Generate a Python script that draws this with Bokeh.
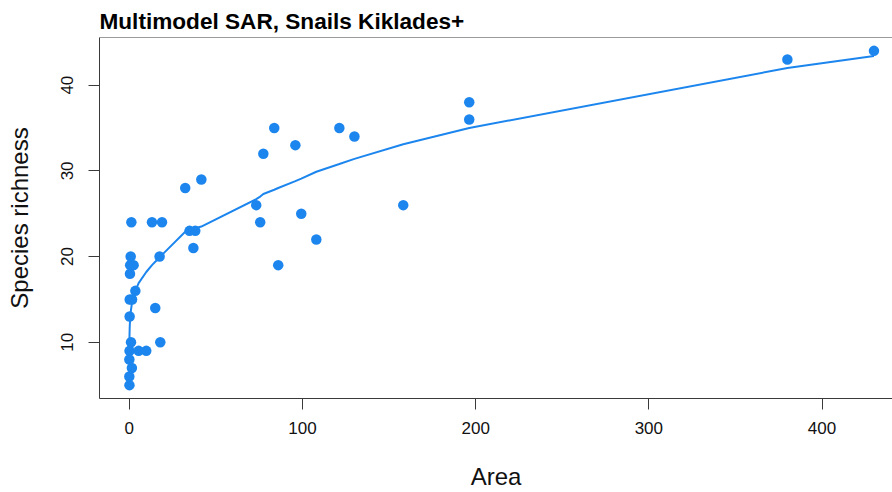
from bokeh.plotting import figure
from bokeh.models import Range1d, FixedTicker, Span
from bokeh.embed import file_html
from bokeh.resources import INLINE

# Island area (km^2), observed snail species richness, and multimodel-averaged fitted richness
area = [0.02, 0.05, 0.1, 0.15, 0.2, 0.25, 0.4, 0.5, 0.8, 1.0, 1.2, 1.5, 1.6, 2.5, 3.5,
        5.4, 9.8, 13.1, 15.0, 17.5, 17.9, 18.9, 32.3, 34.8, 37.0, 38.1, 41.6, 73.3, 75.6,
        77.4, 83.7, 86.0, 95.9, 99.3, 108.0, 121.3, 130.0, 158.2, 196.3, 196.3, 380.0, 430.0]
richness = [6, 8, 5, 9, 13, 15, 18, 19, 20, 10, 24, 7, 15, 19, 16,
            9, 9, 24, 14, 20, 10, 24, 28, 23, 21, 23, 29, 26, 24,
            32, 35, 19, 33, 25, 22, 35, 34, 26, 38, 36, 43, 44]
fitted = [9.0, 9.8, 10.5, 11.0, 11.4, 11.8, 12.4, 12.7, 13.4, 13.8, 14.1, 14.5, 14.6, 15.4, 16.0,
          16.9, 18.2, 19.0, 19.4, 19.9, 20.0, 20.2, 22.9, 23.1, 23.2, 23.3, 23.5, 26.7, 27.0,
          27.3, 27.8, 28.0, 28.8, 29.1, 29.9, 30.8, 31.4, 33.1, 35.0, 35.0, 42.0, 43.4]

x_ticks = [0, 100, 200, 300, 400]
y_ticks = [10, 20, 30, 40]

BLUE = "#1C86EE"
FONT = "Liberation Sans"
AXIS_COLOR = "#3a3a3a"

p = figure(width=892, height=492, output_backend="svg", toolbar_location=None,
           x_range=Range1d(-17.2, 440.7), y_range=Range1d(3.44, 45.56),
           min_border_left=99, min_border_right=0, min_border_top=37, min_border_bottom=94,
           title="Multimodel SAR, Snails Kiklades+")

p.title.text_font = FONT
p.title.text_font_size = "22.6px"
p.title.text_font_style = "bold"
p.title.align = "left"
p.title.offset = 0
p.title.standoff = 8
p.title.text_color = "black"

p.outline_line_color = None
p.grid.visible = False
p.background_fill_color = "white"
p.border_fill_color = "white"

# top edge of the box
p.add_layout(Span(location=45.56, dimension="width", line_color=AXIS_COLOR, line_width=1))

for ax in (p.xaxis[0], p.yaxis[0]):
    ax.axis_line_color = AXIS_COLOR
    ax.axis_line_width = 1
    ax.major_tick_line_color = AXIS_COLOR
    ax.major_tick_out = 11
    ax.major_tick_in = 0
    ax.minor_tick_line_color = None
    ax.major_label_text_font = FONT
    ax.major_label_text_font_size = "17px"
    ax.major_label_text_color = "#111111"
    ax.axis_label_text_font = FONT
    ax.axis_label_text_font_size = "24px"
    ax.axis_label_text_font_style = "normal"
    ax.axis_label_text_color = "#111111"

p.xaxis.ticker = FixedTicker(ticks=x_ticks)
p.yaxis.ticker = FixedTicker(ticks=y_ticks)
p.xaxis.axis_label = "Area"
p.yaxis.axis_label = "Species richness"
p.yaxis.major_label_orientation = "vertical"
p.xaxis.major_label_standoff = 12
p.xaxis.axis_label_standoff = 26
p.yaxis.major_label_standoff = 15
p.yaxis.axis_label_standoff = 26

p.scatter(area, richness, size=10.5, color=BLUE, line_color=None)
p.line(area, fitted, line_width=2, color=BLUE)

open("out.html", "w").write(file_html(p, INLINE))
